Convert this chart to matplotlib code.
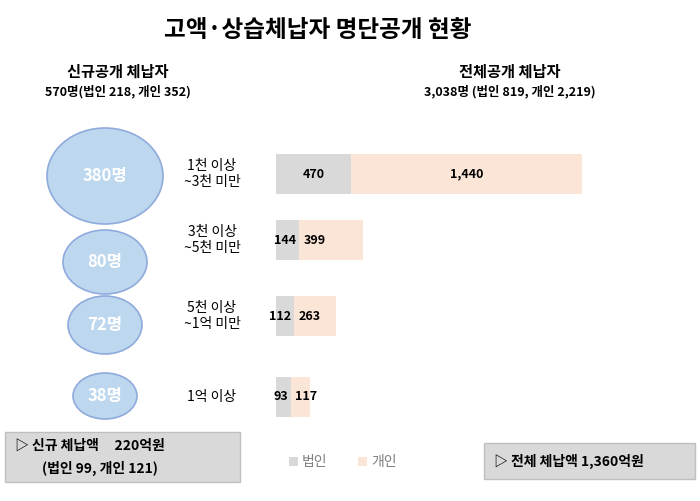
import matplotlib.pyplot as plt
from matplotlib.patches import Ellipse, Rectangle

plt.rcParams['font.family'] = ['Noto Sans CJK KR', 'DejaVu Sans']

# data
new_counts = [380, 80, 72, 38]
ranges = ['1천 이상\n~3천 미만', '3천 이상\n~5천 미만', '5천 이상\n~1억 미만', '1억 이상']
corp = [470, 144, 112, 93]
indiv = [1440, 399, 263, 117]

bar_y = [174, 240, 316, 397]
circ_y = [176, 262, 325, 396]
circ_w = [116, 84, 74, 64]
circ_h = [96, 64, 58, 46]

fig = plt.figure(figsize=(7, 5.01), dpi=100)
ax = fig.add_axes([0, 0, 1, 1])
ax.set_xlim(0, 700)
ax.set_ylim(501, 0)
ax.axis('off')

ax.text(318, 30, '고액·상습체납자 명단공개 현황', ha='center', va='center', fontsize=17, fontweight='bold')
ax.text(118, 72, '신규공개 체납자', ha='center', va='center', fontsize=11, fontweight='bold')
ax.text(118, 92, '570명(법인 218, 개인 352)', ha='center', va='center', fontsize=9, fontweight='bold')
ax.text(510, 72, '전체공개 체납자', ha='center', va='center', fontsize=11, fontweight='bold')
ax.text(510, 92, '3,038명 (법인 819, 개인 2,219)', ha='center', va='center', fontsize=9, fontweight='bold')

for n, r, cy, w, h, by in zip(new_counts, ranges, circ_y, circ_w, circ_h, bar_y):
    ax.add_patch(Ellipse((105, cy), w, h, facecolor='#bdd7ee', edgecolor='#8faadc', lw=1.2))
    ax.text(105, cy, f'{n}명', ha='center', va='center', fontsize=12, fontweight='bold', color='white')
    ax.text(212, by, r, ha='center', va='center', fontsize=10, linespacing=1.2)

# bottom boxes
ax.add_patch(Rectangle((5, 432), 235, 50, facecolor='#d9d9d9', edgecolor='#bfbfbf'))
ax.text(15, 446, '▷ 신규 체납액     220억원', ha='left', va='center', fontsize=10, fontweight='bold')
ax.text(42, 468, '(법인 99, 개인 121)', ha='left', va='center', fontsize=10, fontweight='bold')
ax.add_patch(Rectangle((484, 443), 211, 36, facecolor='#d9d9d9', edgecolor='#bfbfbf'))
ax.text(494, 461, '▷ 전체 체납액 1,360억원', ha='left', va='center', fontsize=10, fontweight='bold')

# legend
ax.add_patch(Rectangle((289, 457), 9, 9, facecolor='#d9d9d9'))
ax.text(302, 462, '법인', ha='left', va='center', fontsize=10, color='#7f7f7f')
ax.add_patch(Rectangle((358, 457), 9, 9, facecolor='#fbe5d6'))
ax.text(371, 462, '개인', ha='left', va='center', fontsize=10, color='#7f7f7f')

# bars
bx = fig.add_axes([276 / 700, 0, 306 / 700, 1])
bx.set_xlim(0, corp[0] + indiv[0])
bx.set_ylim(501, 0)
bx.axis('off')
bx.barh(bar_y, corp, height=40, color='#d9d9d9')
bx.barh(bar_y, indiv, left=corp, height=40, color='#fbe5d6')
for y, c, i in zip(bar_y, corp, indiv):
    if c >= 300:
        bx.text(c / 2, y, f'{c:,}', ha='center', va='center', fontsize=9, fontweight='bold')
        bx.text(c + i / 2, y, f'{i:,}', ha='center', va='center', fontsize=9, fontweight='bold')
    else:
        bx.annotate(f'{c:,}', (c, y), xytext=(-2, 0), textcoords='offset points',
                    ha='right', va='center', fontsize=9, fontweight='bold')
        bx.annotate(f'{i:,}', (c, y), xytext=(3, 0), textcoords='offset points',
                    ha='left', va='center', fontsize=9, fontweight='bold')

fig.savefig('out.png', dpi=100)
